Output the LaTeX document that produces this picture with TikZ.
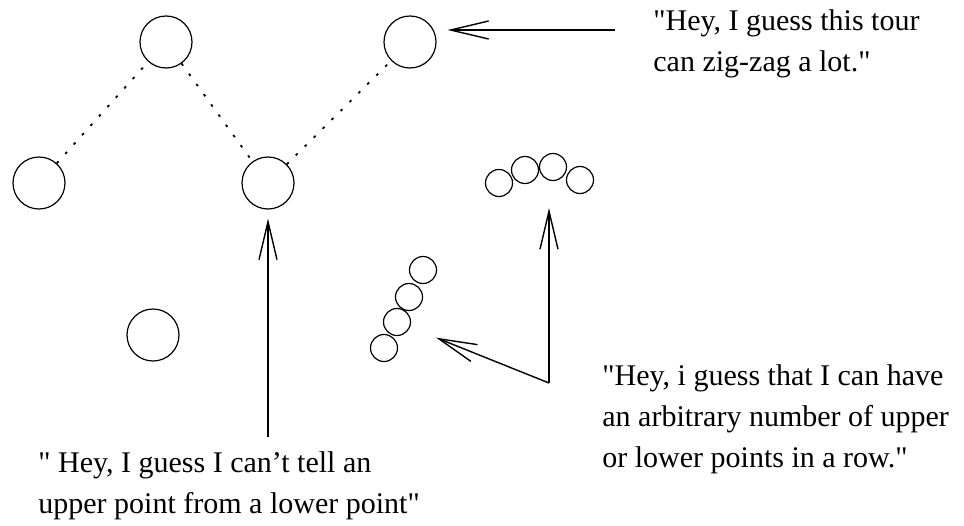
\documentclass[tikz,border=0pt]{standalone}
\usepackage{fontspec}
\setmainfont{Liberation Serif}
\usetikzlibrary{arrows.meta,positioning}

\begin{document}
\begin{tikzpicture}[
  x=0.5pt, y=-0.5pt,
  font=\fontsize{15}{20.5}\selectfont,
  pnt/.style={circle, draw=black, line width=0.6pt, minimum size=26pt, inner sep=0pt},
  bead/.style={circle, draw=black, line width=0.6pt, minimum size=13.5pt, inner sep=0pt},
  tour/.style={black, line width=0.9pt, dash pattern=on 1.3pt off 5pt},
  arr/.style={-{Straight Barb[length=19pt, width=9pt]}, line width=0.7pt, black},
  say/.style={align=left, anchor=base west, inner sep=0pt}
]
\useasboundingbox (0,0) rectangle (964,525);
\node[pnt] (t1) at (166,42) {};
\node[pnt] (t2) at (410,42) {};
\node[pnt] (l1) at (39,183) {};
\node[pnt] (m1) at (268,183) {};
\node[pnt] (b1) at (153,335) {};
\draw[tour] (l1) -- (t1);
\draw[tour] (t1) -- (m1);
\draw[tour] (m1) -- (t2);

\node[bead] (s1) at (499,183) {};
\node[bead] (s2) at (525,170) {};
\node[bead] (s3) at (553,167) {};
\node[bead] (s4) at (580,180) {};
\node[bead] (d1) at (423,270) {};
\node[bead] (d2) at (409,297) {};
\node[bead] (d3) at (397,322) {};
\node[bead] (d4) at (384,348) {};

\node[say] (zig) at (653,71) {\textquotedbl Hey, I guess this tour\\can zig-zag a lot.\textquotedbl};
\node[say] (row) at (602,467) {\textquotedbl Hey, i guess that I can have\\an arbitrary number of upper\\or lower points in a row.\textquotedbl};
\node[say] (tell) at (38,513) {\textquotedbl{} Hey, I guess I can't tell an\\upper point from a lower point\textquotedbl};

\coordinate (qa) at (615,30);
\coordinate (qb) at (268,437);
\coordinate (qc) at (549,383);
\draw[arr, shorten >=5.5pt] (qa) -- (qa -| t2.east);
\draw[arr, shorten >=4.5pt] (qb) -- (m1);
\draw[arr, shorten >=7pt] (qc) -- (qc |- s4.south);
\draw[arr, shorten >=14pt] (qc) -- (d3);
\end{tikzpicture}
\end{document}
